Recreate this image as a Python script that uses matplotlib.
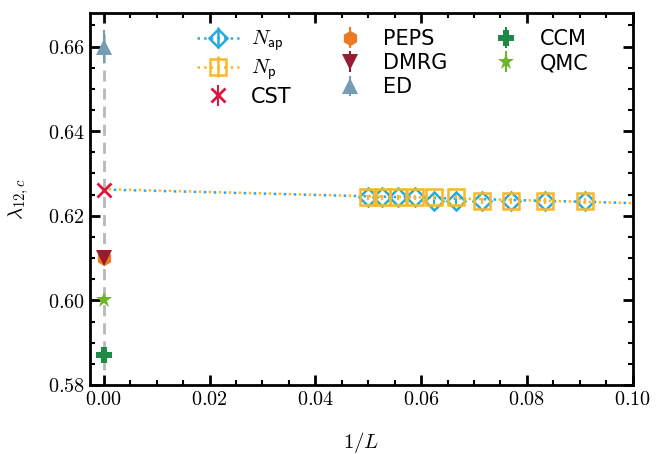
import numpy as np
import matplotlib
matplotlib.use('Agg')
import matplotlib.pyplot as plt
from matplotlib.ticker import MultipleLocator, FuncFormatter

plt.rcParams['mathtext.fontset'] = 'cm'
plt.rcParams['font.family'] = 'DejaVu Sans'

# finite-size data, x = 1/L for L = 20 ... 11
inv_L = [1/20, 1/19, 1/18, 1/17, 1/16, 1/15, 1/14, 1/13, 1/12, 1/11]
lam_ap = [0.6244, 0.6244, 0.6244, 0.6244, 0.6235, 0.6235, 0.6235, 0.6235, 0.6235, 0.6235]
lam_p = [0.6244, 0.6244, 0.6244, 0.6244, 0.6244, 0.6245, 0.6235, 0.6235, 0.6235, 0.6235]
err_ap = [0.0006] * 10
err_p = [0.0006] * 10

# linear extrapolation lines (endpoints at 1/L = 0 and 0.1)
fit_x = [0.0, 0.1]
fit_ap = [0.6262, 0.6230]
fit_p = [0.6263, 0.6230]

# reference values in the thermodynamic limit
methods = ['CST', 'PEPS', 'DMRG', 'ED', 'CCM', 'QMC']
ref_vals = [0.626, 0.610, 0.610, 0.660, 0.587, 0.600]
ref_errs = [0.0, 0.0, 0.0, 0.004, 0.0, 0.0]

c_ap = '#27aae1'
c_p = '#fbb726'
styles = {
    'CST':  dict(marker='x', color='#d7193f', ms=10, mew=2.0),
    'PEPS': dict(marker='h', color='#ea7a24', ms=11, mew=0),
    'DMRG': dict(marker='v', color='#981b30', ms=12, mew=0),
    'ED':   dict(marker='^', color='#759cb5', ms=12, mew=0),
    'CCM':  dict(marker='P', color='#1f8a45', ms=11, mew=0),
    'QMC':  dict(marker='*', color='#6db52b', ms=12, mew=0),
}

fig = plt.figure(figsize=(6.57, 4.54), dpi=100)
ax = fig.add_axes([0.137, 0.152, 0.826, 0.820])

ax.plot([0, 0], [0.5835, 0.6645], ls=(0, (4, 2.5)), color='#b8b8b8', lw=2, zorder=1)

# interleaved dotted lines so both colours stay visible
ax.plot(fit_x, fit_ap, ls=(0, (1, 3)), color=c_ap, lw=1.8, zorder=2)
ax.plot(fit_x, fit_p, ls=(2, (1, 3)), color=c_p, lw=1.8, zorder=2)
ax.errorbar(inv_L, lam_ap, yerr=err_ap, fmt='D', ms=9, mfc='none', mec=c_ap,
            mew=1.8, color=c_ap, elinewidth=1.5, zorder=3)
ax.errorbar(inv_L, lam_p, yerr=err_p, fmt='s', ms=11, mfc='none', mec=c_p,
            mew=1.8, color=c_p, elinewidth=1.5, zorder=3)

# legend proxies for the two finite-size series
h_ap = ax.errorbar([np.nan], [np.nan], yerr=[0.0], fmt=':D', ms=9, mfc='none',
                   mec=c_ap, mew=1.8, color=c_ap, lw=1.8, label=r'$N_{\mathsf{ap}}$')
h_p = ax.errorbar([np.nan], [np.nan], yerr=[0.0], fmt=':s', ms=11, mfc='none',
                  mec=c_p, mew=1.8, color=c_p, lw=1.8, label=r'$N_{\mathsf{p}}$')

handles = [h_ap, h_p]
for m, v, e in zip(methods, ref_vals, ref_errs):
    st = styles[m]
    h = ax.errorbar([0.0], [v], yerr=[e], fmt=st['marker'], ms=st['ms'],
                    mew=st['mew'], color=st['color'], elinewidth=1.5,
                    zorder=4, label=m)
    handles.append(h)

ax.set_xlim(-0.0026, 0.1)
ax.set_ylim(0.58, 0.668)
ax.xaxis.set_major_locator(MultipleLocator(0.02))
ax.xaxis.set_minor_locator(MultipleLocator(0.005))
ax.yaxis.set_major_locator(MultipleLocator(0.02))
ax.yaxis.set_minor_locator(MultipleLocator(0.005))
fmt = FuncFormatter(lambda v, p: rf'${v:.2f}$')
ax.xaxis.set_major_formatter(fmt)
ax.yaxis.set_major_formatter(fmt)
ax.tick_params(which='both', direction='in', top=True, right=True, labelsize=14.5)
ax.tick_params(which='major', length=7, width=2)
ax.tick_params(which='minor', length=3.5, width=1.5)
for sp in ax.spines.values():
    sp.set_linewidth(2)

ax.set_xlabel(r'$1/L$', fontsize=15, labelpad=15)
ax.set_ylabel(r'$\lambda_{12,c}$', fontsize=15, labelpad=12)

ax.legend(handles=handles, ncol=3, loc='upper left', bbox_to_anchor=(0.197, 0.957),
          frameon=False, fontsize=15, handlelength=2.0, handletextpad=0.6,
          columnspacing=1.8, labelspacing=0.2, borderpad=0, borderaxespad=0)

fig.savefig('out.png', dpi=100)
